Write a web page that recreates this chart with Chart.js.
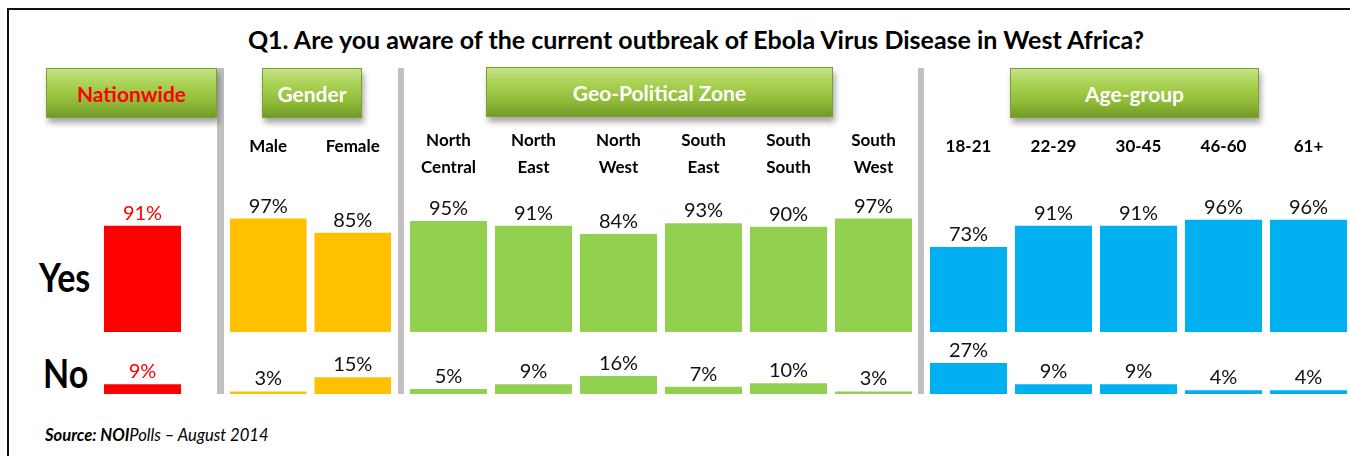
<!DOCTYPE html>
<html>
<head>
<meta charset="utf-8">
<script src="https://cdn.jsdelivr.net/npm/chart.js@4.4.1/dist/chart.umd.min.js"></script>
<style>
  html, body { margin: 0; padding: 0; background: #fff; }
  body { width: 1350px; height: 456px; overflow: hidden; position: relative; font-family: Lato, "Open Sans", sans-serif; }
  .frame { position: absolute; left: 7px; top: 8px; width: 1360px; height: 470px; border-left: 2px solid #111; border-top: 2px solid #111; }
  .title { position: absolute; left: 0; width: 1392px; top: 24px; text-align: center; font-weight: bold; font-size: 25px; color: #000; white-space: nowrap; }
  .sep { position: absolute; top: 68px; height: 326px; background: #c0c0c0; }
  .btn { position: absolute; height: 50px; display: flex; align-items: center; justify-content: center;
         background: linear-gradient(to bottom, #c4e388 0%, #a7d04f 35%, #8fbb38 70%, #729a28 100%);
         border: 1px solid #7d9e36; box-shadow: 2px 5px 6px rgba(0,0,0,0.35);
         font-weight: bold; font-size: 21px; color: #fff; box-sizing: border-box; white-space: nowrap; }
  .row { position: absolute; font-weight: bold; font-size: 40px; color: #000; transform: scaleX(0.85); transform-origin: left center; line-height: 1; }
  .src { position: absolute; left: 45px; top: 425px; font-size: 16.6px; font-style: italic; color: #000; white-space: nowrap; }
  .cv { position: absolute; top: 120px; }
</style>
</head>
<body>
<div class="frame"></div>
<div class="title" id="title"></div>
<div class="sep" style="left:217px;width:7px"></div>
<div class="sep" style="left:398px;width:6px"></div>
<div class="sep" style="left:918px;width:6px"></div>
<div id="buttons"></div>
<div class="row" id="rowYes" style="left:39px;top:257px"></div>
<div class="row" id="rowNo" style="left:43px;top:353px"></div>
<div class="src" id="src"><b>Source: NOI</b>Polls – August 2014</div>
<canvas class="cv" id="cNation" width="85" height="280" style="left:100px"></canvas>
<canvas class="cv" id="cGender" width="169" height="280" style="left:226px"></canvas>
<canvas class="cv" id="cZone" width="510" height="280" style="left:406px"></canvas>
<canvas class="cv" id="cAge" width="425" height="280" style="left:926px"></canvas>
<script>
// ---- data ----
const chartTitle = 'Q1. Are you aware of the current outbreak of Ebola Virus Disease in West Africa?';
const groups = ['Nationwide', 'Gender', 'Geo-Political Zone', 'Age-group'];
const rowLabels = ['Yes', 'No'];

const nationwideCats = ['Nationwide'];
const nationwideYes = [91];
const nationwideNo = [9];

const genderCats = ['Male', 'Female'];
const genderYes = [97, 85];
const genderNo = [3, 15];

const zoneCats = [['North', 'Central'], ['North', 'East'], ['North', 'West'], ['South', 'East'], ['South', 'South'], ['South', 'West']];
const zoneYes = [95, 91, 84, 93, 90, 97];
const zoneNo = [5, 9, 16, 7, 10, 3];

const ageCats = ['18-21', '22-29', '30-45', '46-60', '61+'];
const ageYes = [73, 91, 91, 96, 96];
const ageNo = [27, 9, 9, 4, 4];

// ---- static text ----
document.getElementById('title').textContent = chartTitle;
document.getElementById('rowYes').textContent = rowLabels[0];
document.getElementById('rowNo').textContent = rowLabels[1];

const btnBoxes = [
  { left: 46, top: 68, width: 171, color: '#ff0000' },
  { left: 262, top: 68, width: 100, color: '#ffffff' },
  { left: 486, top: 67, width: 347, color: '#ffffff' },
  { left: 1010, top: 68, width: 249, color: '#ffffff' }
];
const btnHost = document.getElementById('buttons');
groups.forEach((g, i) => {
  const d = document.createElement('div');
  d.className = 'btn';
  d.style.left = btnBoxes[i].left + 'px';
  d.style.top = btnBoxes[i].top + 'px';
  d.style.width = btnBoxes[i].width + 'px';
  d.style.color = btnBoxes[i].color;
  d.textContent = g;
  btnHost.appendChild(d);
});

// ---- value label plugin ----
const valueLabels = {
  id: 'valueLabels',
  afterDatasetsDraw(chart, args, opts) {
    const ctx = chart.ctx;
    ctx.save();
    ctx.font = '20px Lato';
    ctx.textAlign = 'center';
    ctx.textBaseline = 'alphabetic';
    ctx.fillStyle = opts.color || '#000';
    chart.data.datasets.forEach((ds, di) => {
      chart.getDatasetMeta(di).data.forEach((bar, i) => {
        ctx.fillText(ds.data[i] + '%', bar.x, bar.y - 5);
      });
    });
    ctx.restore();
  }
};

function makeChart(id, cats, yes, no, color, labelColor, opts) {
  const lineH = opts.lineHeight || 1.2;
  return new Chart(document.getElementById(id), {
    type: 'bar',
    data: {
      labels: cats,
      datasets: [
        { label: rowLabels[0], data: yes, yAxisID: 'yYes', backgroundColor: color, borderColor: 'rgba(255,255,255,0.55)', borderWidth: 1 },
        { label: rowLabels[1], data: no, yAxisID: 'yNo', backgroundColor: color, borderColor: 'rgba(255,255,255,0.55)', borderWidth: 1 }
      ]
    },
    options: {
      responsive: false,
      animation: false,
      events: [],
      layout: { autoPadding: false, padding: { top: 0, bottom: 6, left: 0, right: 0 } },
      datasets: { bar: { categoryPercentage: 1, barPercentage: 0.93 } },
      plugins: {
        legend: { display: false },
        tooltip: { enabled: false },
        title: { display: false },
        valueLabels: { color: labelColor }
      },
      scales: {
        x: {
          position: 'top',
          stacked: true,
          grid: { display: false, drawTicks: false },
          border: { display: false },
          ticks: {
            display: opts.showTicks,
            color: '#000',
            font: { family: 'Lato', weight: 'bold', size: 17, lineHeight: lineH },
            padding: opts.pad,
            maxRotation: 0,
            autoSkip: false
          },
          afterFit(scale) { scale.height = 94; scale.paddingLeft = 0; scale.paddingRight = 0; }
        },
        yNo: {
          type: 'linear', position: 'left', stack: 'rows', stackWeight: 61.7,
          min: 0, max: 52,
          grid: { display: false, drawTicks: false }, border: { display: false },
          ticks: { display: false }
        },
        yYes: {
          type: 'linear', position: 'left', stack: 'rows', stackWeight: 118.3,
          min: 0, max: 100,
          grid: { display: false, drawTicks: false }, border: { display: false },
          ticks: { display: false }
        }
      }
    },
    plugins: [valueLabels]
  });
}

makeChart('cNation', nationwideCats, nationwideYes, nationwideNo, '#ff0000', '#ff0000', { showTicks: false, pad: 0 });
makeChart('cGender', genderCats, genderYes, genderNo, '#ffc000', '#111', { showTicks: true, pad: 57 });
makeChart('cZone', zoneCats, zoneYes, zoneNo, '#92d050', '#111', { showTicks: true, pad: 33, lineHeight: 1.6 });
makeChart('cAge', ageCats, ageYes, ageNo, '#00b0f0', '#111', { showTicks: true, pad: 57 });
</script>
</body>
</html>
